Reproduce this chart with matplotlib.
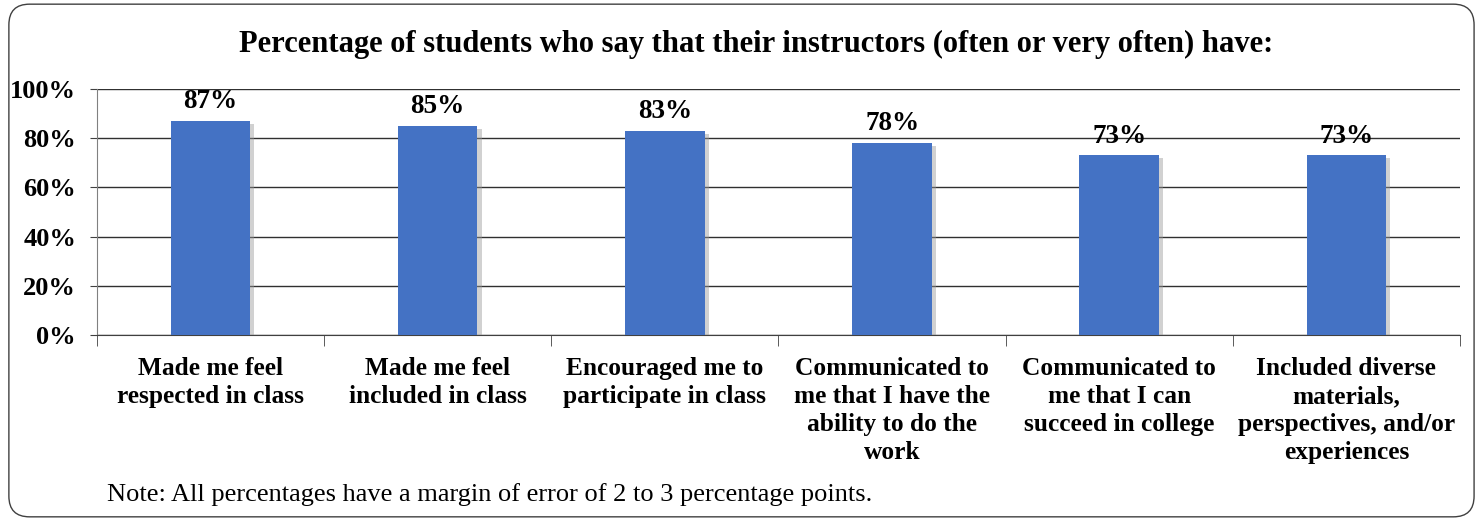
import matplotlib.pyplot as plt
import matplotlib.patheffects as pe
from matplotlib.patches import FancyBboxPatch
from matplotlib.ticker import FixedLocator, PercentFormatter

plt.rcParams['font.family'] = ['Liberation Serif', 'DejaVu Serif']

categories = [
    "Made me feel\nrespected in class",
    "Made me feel\nincluded in class",
    "Encouraged me to\nparticipate in class",
    "Communicated to\nme that I have the\nability to do the\nwork",
    "Communicated to\nme that I can\nsucceed in college",
    "Included diverse\nmaterials,\nperspectives, and/or\nexperiences",
]
values = [87, 85, 83, 78, 73, 73]
y_ticks = [0, 20, 40, 60, 80, 100]

title = "Percentage of students who say that their instructors (often or very often) have:"
note = "Note: All percentages have a margin of error of 2 to 3 percentage points."

fig = plt.figure(figsize=(14.8, 5.21), dpi=100)

# rounded frame round the whole chart
frame = FancyBboxPatch((0.006, 0.008), 0.99, 0.984, transform=fig.transFigure,
                       boxstyle="round,pad=0,rounding_size=0.014",
                       fill=False, edgecolor='#404040', linewidth=1.0,
                       mutation_aspect=14.8 / 5.21)
fig.patches.append(frame)

ax = fig.add_axes([0.0655, 0.357, 0.921, 0.472])
x = list(range(len(categories)))
bars = ax.bar(x, values, width=0.35, color='#4472C4', zorder=3)
for b in bars:
    b.set_path_effects([pe.SimplePatchShadow(offset=(3, -2), shadow_rgbFace='#999999', alpha=0.45),
                        pe.Normal()])

for xi, v in zip(x, values):
    ax.annotate(f"{v}%", (xi, v), xytext=(0, 5), textcoords='offset points',
                ha='center', va='bottom', fontsize=19.5, fontweight='bold')

ax.set_xlim(-0.5, len(categories) - 0.5)
ax.set_ylim(0, 100)
ax.yaxis.set_major_locator(FixedLocator(y_ticks))
ax.yaxis.set_major_formatter(PercentFormatter(decimals=0))
ax.grid(axis='y', color='#303030', linewidth=1.0, zorder=0)

ax.set_xticks(x)
ax.set_xticklabels(categories, fontsize=18.3, fontweight='bold', linespacing=1.28)
ax.tick_params(axis='x', which='major', length=0, pad=16)
ax.set_xticks([i - 0.5 for i in range(len(categories) + 1)], minor=True)
ax.tick_params(axis='x', which='minor', length=8, color='#404040')
ax.tick_params(axis='y', length=5, color='#404040', labelsize=19, pad=10)
for lab in ax.get_yticklabels():
    lab.set_fontweight('bold')

for s in ['top', 'right']:
    ax.spines[s].set_visible(False)
ax.spines['left'].set_color('#808080')
ax.spines['bottom'].set_color('#404040')

fig.text(0.511, 0.914, title, ha='center', va='center', fontsize=22, fontweight='bold')
fig.text(0.072, 0.05, note, ha='left', va='center', fontsize=19)

fig.savefig('out.png', dpi=100)
